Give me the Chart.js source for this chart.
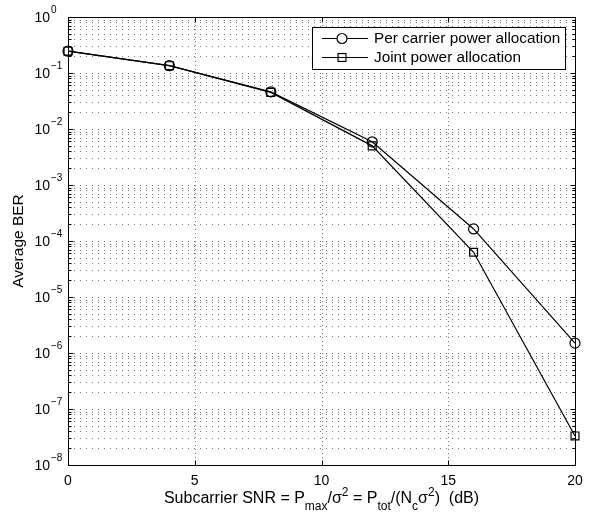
<!DOCTYPE html>
<html>
<head>
<meta charset="utf-8">
<script src="https://cdn.jsdelivr.net/npm/chart.js@4/dist/chart.umd.min.js"></script>
<style>
  html, body { margin: 0; padding: 0; background: #fff; }
  #wrap { width: 590px; height: 519px; position: relative; }
</style>
</head>
<body>
<div id="wrap"><canvas id="c"></canvas></div>
<script>
// BER vs subcarrier SNR
const snr = [0, 4, 8, 12, 16, 20];
const berPerCarrier = [0.245, 0.135, 0.046, 5.9e-3, 1.64e-4, 1.5e-6];
const berJoint = [0.245, 0.135, 0.045, 5.0e-3, 6.3e-5, 3.3e-8];

const xTicks = [0, 5, 10, 15, 20];
const yExps = [0, -1, -2, -3, -4, -5, -6, -7, -8];
const legendLabels = ["Per carrier power allocation", "Joint power allocation"];

const FONT = '"Liberation Sans", Arial, Helvetica, sans-serif';

function pts(ys) { return snr.map((x, i) => ({ x: x, y: ys[i] })); }

// matlab-ish frame: dotted grid, inward ticks, labels with exponents, boxed legend
const matlabFrame = {
  id: "matlabFrame",
  beforeDatasetsDraw(chart) {
    const { ctx, chartArea: a, scales: { x, y } } = chart;
    ctx.save();
    ctx.strokeStyle = "#777";
    ctx.lineWidth = 1;
    // horizontal: decades + minors
    ctx.setLineDash([1, 5]);
    for (let e = -8; e < 0; e++) {
      for (let m = 1; m <= 9; m++) {
        const v = m * Math.pow(10, e);
        const py = Math.round(y.getPixelForValue(v)) + 0.5;
        if (py <= a.top + 1 || py >= a.bottom - 1) continue;
        ctx.beginPath(); ctx.moveTo(a.left, py); ctx.lineTo(a.right, py); ctx.stroke();
      }
    }
    // vertical majors
    ctx.setLineDash([1, 3]);
    xTicks.forEach((t) => {
      const px = Math.round(x.getPixelForValue(t)) + 0.5;
      if (px <= a.left + 1 || px >= a.right - 1) return;
      ctx.beginPath(); ctx.moveTo(px, a.top); ctx.lineTo(px, a.bottom); ctx.stroke();
    });
    ctx.restore();
  },
  afterDraw(chart) {
    const { ctx, chartArea: a, scales: { x, y } } = chart;
    ctx.save();
    ctx.strokeStyle = "#000";
    ctx.fillStyle = "#000";
    ctx.lineWidth = 1;
    ctx.setLineDash([]);
    const L = a.left + 0.5, R = a.right + 0.5, T = a.top + 0.5, B = a.bottom + 0.5;
    ctx.strokeRect(L, T, R - L, B - T);

    // ticks
    ctx.beginPath();
    xTicks.forEach((t) => {
      const px = Math.round(x.getPixelForValue(t)) + 0.5;
      ctx.moveTo(px, B); ctx.lineTo(px, B - 5);
      ctx.moveTo(px, T); ctx.lineTo(px, T + 5);
    });
    for (let e = -8; e <= 0; e++) {
      for (let m = 1; m <= 9; m++) {
        if (e === 0 && m > 1) break;
        const py = Math.round(y.getPixelForValue(m * Math.pow(10, e))) + 0.5;
        const len = m === 1 ? 5 : 3;
        ctx.moveTo(L, py); ctx.lineTo(L + len, py);
        ctx.moveTo(R, py); ctx.lineTo(R - len, py);
      }
    }
    ctx.stroke();

    // x tick labels
    ctx.font = "14px " + FONT;
    ctx.textAlign = "center";
    ctx.textBaseline = "middle";
    xTicks.forEach((t) => ctx.fillText(String(t), x.getPixelForValue(t), 481));

    // y tick labels 10^e
    yExps.forEach((e) => {
      const py = y.getPixelForValue(Math.pow(10, e));
      ctx.font = "14px " + FONT;
      ctx.textAlign = "right";
      ctx.textBaseline = "middle";
      ctx.fillText("10", 50, py + 1);
      ctx.font = "10px " + FONT;
      ctx.textAlign = "left";
      ctx.fillText(e === 0 ? "0" : "\u2212" + Math.abs(e), 51, py - 7);
    });

    // x title with sub/superscripts
    const parts = [
      ["Subcarrier SNR = P", 0], ["max", 1], ["/\u03c3", 0], ["2", -1],
      [" = P", 0], ["tot", 1], ["/(N", 0], ["c", 1], ["\u03c3", 0], ["2", -1], [")  (dB)", 0],
    ];
    const fontFor = (k) => (k === 0 ? "16px " : "12px ") + FONT;
    let w = 0;
    parts.forEach(([t, k]) => { ctx.font = fontFor(k); w += ctx.measureText(t).width; });
    let cx = (a.left + a.right) / 2 - w / 2;
    ctx.textAlign = "left";
    ctx.textBaseline = "alphabetic";
    parts.forEach(([t, k]) => {
      ctx.font = fontFor(k);
      const dy = k === 1 ? 7 : k === -1 ? -7 : 0;
      ctx.fillText(t, cx, 503 + dy);
      cx += ctx.measureText(t).width;
    });

    // y title
    ctx.save();
    ctx.translate(19, (a.top + a.bottom) / 2);
    ctx.rotate(-Math.PI / 2);
    ctx.font = "15.5px " + FONT;
    ctx.textAlign = "center";
    ctx.textBaseline = "middle";
    ctx.fillText("Average BER", 0, 0);
    ctx.restore();

    // legend box
    const bx = 312.5, by = 27.5, bw = 253, bh = 42;
    ctx.fillStyle = "#fff";
    ctx.fillRect(bx, by, bw, bh);
    ctx.strokeStyle = "#000";
    ctx.strokeRect(bx, by, bw, bh);
    const rows = [38, 57];
    chart.data.datasets.forEach((ds, i) => {
      const ry = rows[i] + 0.5;
      ctx.strokeStyle = "#000";
      ctx.lineWidth = 1.2;
      ctx.beginPath(); ctx.moveTo(322, ry); ctx.lineTo(368, ry); ctx.stroke();
      ctx.beginPath();
      if (ds.pointStyle === "circle") {
        ctx.fillStyle = "#fff";
        ctx.arc(342, ry, ds.pointRadius, 0, Math.PI * 2);
        ctx.fill();
        ctx.stroke();
      } else {
        const s = ds.pointRadius * Math.SQRT1_2;
        ctx.strokeRect(342 - s, ry - s, 2 * s, 2 * s);
      }
      ctx.fillStyle = "#000";
      ctx.font = "15.3px " + FONT;
      ctx.textAlign = "left";
      ctx.textBaseline = "middle";
      ctx.fillText(legendLabels[i], 374, rows[i] + 1);
    });
    ctx.restore();
  },
};

new Chart(document.getElementById("c"), {
  type: "line",
  data: {
    datasets: [
      {
        label: legendLabels[0],
        data: pts(berPerCarrier),
        borderColor: "#000",
        borderWidth: 1.2,
        pointStyle: "circle",
        pointRadius: 5,
        pointBorderColor: "#000",
        pointBackgroundColor: "rgba(0,0,0,0)",
        pointBorderWidth: 1.2,
        tension: 0,
        clip: false,
      },
      {
        label: legendLabels[1],
        data: pts(berJoint),
        borderColor: "#000",
        borderWidth: 1.2,
        pointStyle: "rect",
        pointRadius: 5.6,
        pointBorderColor: "#000",
        pointBackgroundColor: "rgba(0,0,0,0)",
        pointBorderWidth: 1.2,
        tension: 0,
        clip: false,
      },
    ],
  },
  options: {
    responsive: true,
    maintainAspectRatio: false,
    animation: false,
    events: [],
    layout: { padding: { left: 68, right: 15, top: 17, bottom: 54 } },
    plugins: { legend: { display: false }, tooltip: { enabled: false } },
    scales: {
      x: { type: "linear", min: 0, max: 20, display: false },
      y: { type: "logarithmic", min: 1e-8, max: 1, display: false },
    },
  },
  plugins: [matlabFrame],
});
</script>
</body>
</html>
